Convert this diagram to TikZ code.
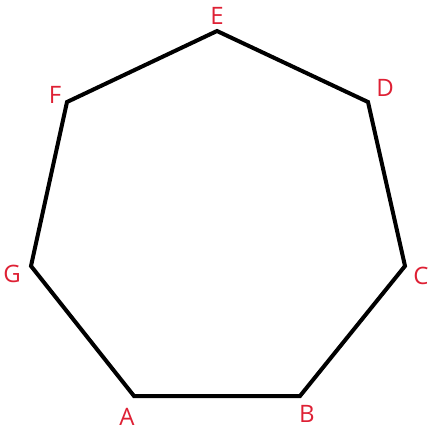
\documentclass[tikz,border=0pt]{standalone}
\usepackage{fontspec}
\setmainfont{Open Sans}
\usetikzlibrary{calc}
\definecolor{labelred}{RGB}{222,32,52}

\begin{document}
\begin{tikzpicture}[x=1pt,y=-1pt,line width=4pt,line join=miter,
vlabel/.style={text=labelred,inner sep=0pt,font=\fontsize{24}{28}\selectfont}]
\useasboundingbox (0,0) rectangle (439,432);

\coordinate (A) at (134,396);
\coordinate (B) at (300,396);
\coordinate (C) at (405,266);
\coordinate (D) at (368,102);
\coordinate (E) at (217,31);
\coordinate (F) at (67,102);
\coordinate (G) at (31,266);

\draw (A)--(B)--(C)--(D)--(E)--(F)--(G)--cycle;

\node[vlabel] (lA) at ($(A)+(-7,21)$) {A};
\node[vlabel] (lB) at ($(B)+(7,18)$) {B};
\node[vlabel] (lC) at ($(C)+(16,10)$) {C};
\node[vlabel] (lD) at ($(D)+(17,-14)$) {D};
\node[vlabel] (lE) at ($(E)+(0,-15)$) {E};
\node[vlabel] (lF) at ($(F)+(-12,-7)$) {F};
\node[vlabel] (lG) at ($(G)+(-19,8)$) {G};

\end{tikzpicture}
\end{document}
